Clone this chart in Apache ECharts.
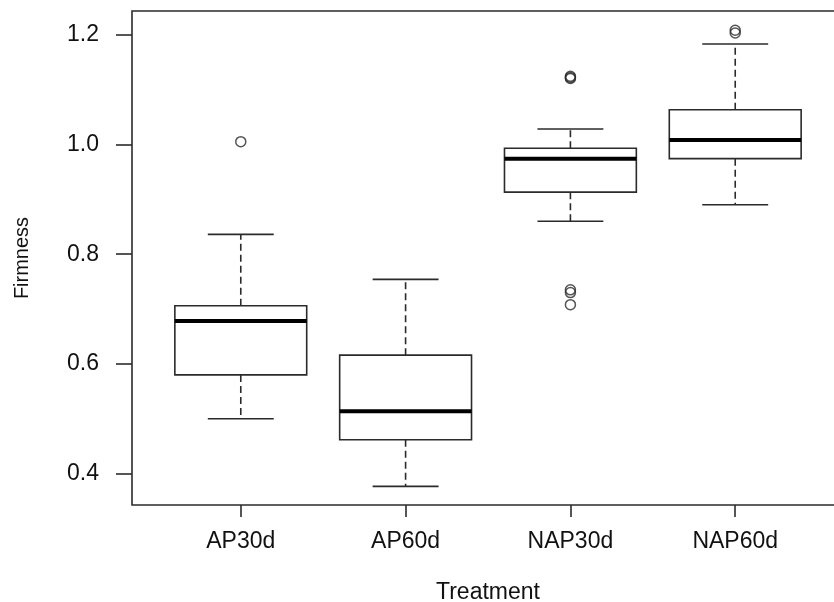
<!DOCTYPE html>
<html>
<head>
<meta charset="utf-8">
<script src="https://cdn.jsdelivr.net/npm/echarts@6/dist/echarts.min.js"></script>
<style>html,body{margin:0;padding:0;background:#fff}#c{width:834px;height:602px}</style>
</head>
<body>
<div id="c"></div>
<script>
const categories = ['AP30d', 'AP60d', 'NAP30d', 'NAP60d'];
const whiskerLow  = [0.500, 0.377, 0.860, 0.890];
const q1          = [0.580, 0.462, 0.913, 0.974];
const medians     = [0.678, 0.514, 0.974, 1.008];
const q3          = [0.706, 0.616, 0.993, 1.063];
const whiskerHigh = [0.836, 0.754, 1.028, 1.183];
// outliers: [category index (1-based), value]
const outliers = [
  [1, 1.005],
  [3, 1.120], [3, 1.122], [3, 1.124],
  [3, 0.735], [3, 0.730], [3, 0.708],
  [4, 1.208], [4, 1.203]
];
const yTicks = [0.4, 0.6, 0.8, 1.0, 1.2];

const boxData = categories.map((c, i) => [i + 1, whiskerLow[i], q1[i], medians[i], q3[i], whiskerHigh[i]]);

const chart = echarts.init(document.getElementById('c'));
const lineCol = '#2b2b2b';
const FONT = 'Liberation Sans, Arial, sans-serif';

function renderBox(params, api) {
  const x = api.value(0);
  const lo = api.value(1), a = api.value(2), m = api.value(3), b = api.value(4), hi = api.value(5);
  const halfBox = 0.4, halfCap = 0.2;
  const pL = api.coord([x - halfBox, b]);
  const pR = api.coord([x + halfBox, a]);
  const cL = api.coord([x - halfCap, hi])[0];
  const cR = api.coord([x + halfCap, hi])[0];
  const cx = api.coord([x, m])[0];
  const yHi = api.coord([x, hi])[1], yLo = api.coord([x, lo])[1];
  const yA = api.coord([x, a])[1], yB = api.coord([x, b])[1], yM = api.coord([x, m])[1];
  const solid = { stroke: lineCol, lineWidth: 1.6, fill: null };
  const dashed = { stroke: lineCol, lineWidth: 1.6, lineDash: [7, 4] };
  return {
    type: 'group',
    children: [
      { type: 'line', shape: { x1: cx, y1: yB, x2: cx, y2: yHi }, style: dashed },
      { type: 'line', shape: { x1: cx, y1: yA, x2: cx, y2: yLo }, style: dashed },
      { type: 'line', shape: { x1: cL, y1: yHi, x2: cR, y2: yHi }, style: solid },
      { type: 'line', shape: { x1: cL, y1: yLo, x2: cR, y2: yLo }, style: solid },
      { type: 'rect', shape: { x: pL[0], y: yB, width: pR[0] - pL[0], height: yA - yB }, style: { stroke: lineCol, lineWidth: 1.6, fill: '#fff' } },
      { type: 'line', shape: { x1: pL[0], y1: yM, x2: pR[0], y2: yM }, style: { stroke: '#000', lineWidth: 4 } }
    ]
  };
}

chart.setOption({
  animation: false,
  backgroundColor: '#fff',
  grid: { left: 132, top: 11, width: 712, height: 494, outerBoundsMode: 'none', containLabel: false,
    show: true, borderColor: lineCol, borderWidth: 1.6, backgroundColor: 'transparent' },
  xAxis: {
    type: 'value', min: 0.34, max: 4.66,
    name: 'Treatment', nameLocation: 'middle', nameGap: 76,
    nameTextStyle: { fontFamily: FONT, fontSize: 23, color: '#111' },
    axisLine: { show: false },
    splitLine: { show: false },
    axisTick: { show: true, length: 12, customValues: [1, 2, 3, 4], lineStyle: { color: lineCol, width: 1.6 } },
    axisLabel: { customValues: [1, 2, 3, 4], margin: 25, fontFamily: FONT, fontSize: 23, color: '#111',
      formatter: v => categories[Math.round(v) - 1] || '' }
  },
  yAxis: {
    type: 'value', min: 0.343, max: 1.243,
    name: 'Firmness', nameLocation: 'middle', nameGap: 100,
    nameTextStyle: { fontFamily: FONT, fontSize: 20, color: '#111' },
    axisLine: { show: false },
    splitLine: { show: false },
    axisTick: { show: true, length: 16, customValues: yTicks, lineStyle: { color: lineCol, width: 1.6 } },
    axisLabel: { customValues: yTicks, margin: 33, fontFamily: FONT, fontSize: 23, color: '#111',
      padding: [4, 0, 0, 0], formatter: v => v.toFixed(1) }
  },
  series: [
    {
      type: 'custom',
      renderItem: renderBox,
      data: boxData,
      encode: { x: 0, y: [1, 2, 3, 4, 5] },
      z: 2
    },
    {
      type: 'scatter',
      data: outliers,
      symbol: 'circle',
      symbolSize: 10,
      itemStyle: { color: 'transparent', borderColor: lineCol, borderWidth: 1.5 },
      z: 3
    }
  ]
});
</script>
</body>
</html>
